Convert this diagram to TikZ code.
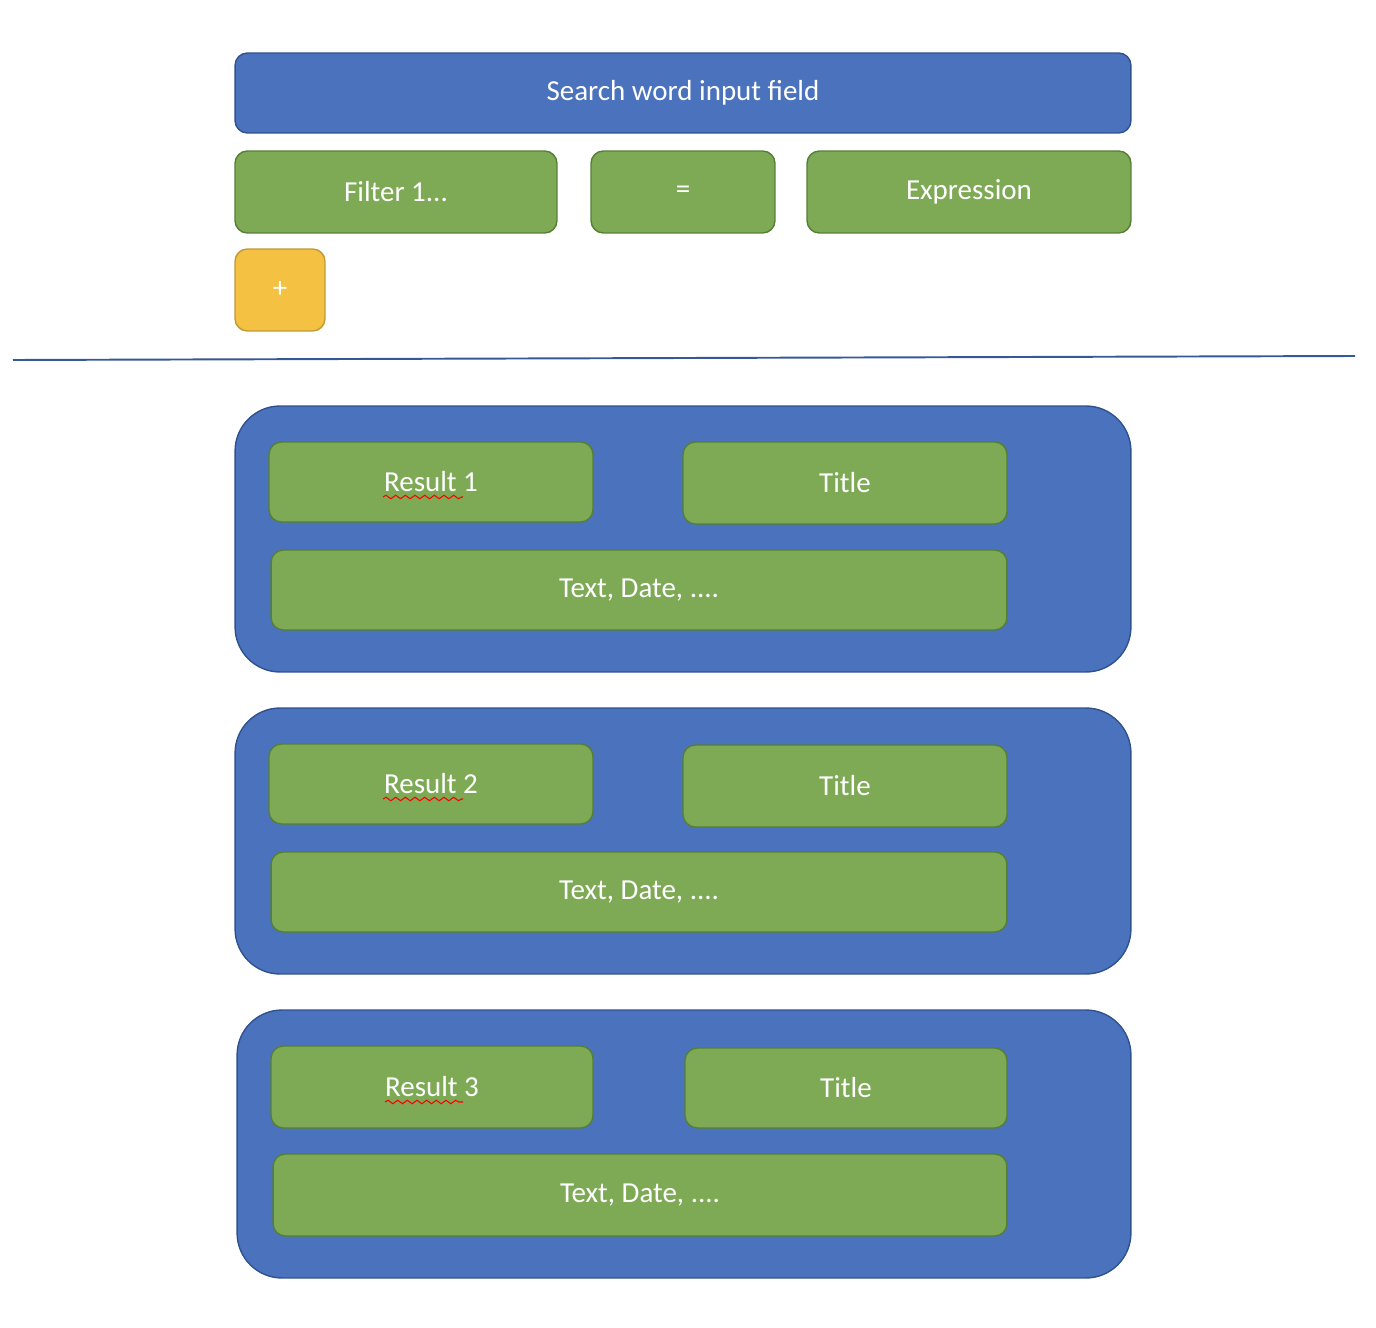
\documentclass[tikz,border=0pt]{standalone}
\usepackage{fontspec}
\setmainfont{Carlito}
\usetikzlibrary{positioning,decorations.pathmorphing}
\definecolor{boxblue}{HTML}{4A72BD}
\definecolor{blueedge}{HTML}{2F528F}
\definecolor{boxgreen}{HTML}{7EA955}
\definecolor{greenedge}{HTML}{557F35}
\definecolor{boxyellow}{HTML}{F4C142}
\definecolor{yellowedge}{HTML}{C09A35}

\begin{document}
\begin{tikzpicture}[x=0.02cm, y=-0.02cm,
    box/.style={draw, rounded corners=7pt, inner sep=0pt, line width=0.8pt, text=white, font=\fontsize{16.5}{19}\selectfont},
    bar/.style={box, fill=boxblue, draw=blueedge},
    grn/.style={box, fill=boxgreen, draw=greenedge},
    plus/.style={box, fill=boxyellow, draw=yellowedge},
    group/.style={draw=blueedge, fill=boxblue, rounded corners=0.9cm, inner sep=0pt, line width=0.8pt, minimum width=17.92cm, minimum height=5.32cm},
    squiggle/.style={red, line width=0.6pt, decorate, decoration={snake, amplitude=1pt, segment length=5.5pt}}]
              \useasboundingbox (0,0) rectangle (1376,1328);

              % search area
              \node[bar, minimum width=17.92cm, minimum height=1.6cm] (search) at (683,93) {Search word input field};
              \node[grn, minimum width=6.44cm, minimum height=1.64cm] (filter) at (396,192) {Filter 1...};
              \node[grn, minimum width=3.68cm, minimum height=1.64cm] (eq) at (683,192) {=};
              \node[grn, minimum width=6.48cm, minimum height=1.64cm] (expr) at (969,192) {Expression};
              \node[plus, minimum width=1.8cm, minimum height=1.64cm] (add) at (280,290) {+};

              % separator
              \coordinate (sepl) at (13,360);
              \coordinate (sepr) at (1355,356);
              \draw[blueedge!80!boxblue, line width=1.1pt] (sepl) -- (sepr);

              % results
              \node[group] (g1) at (683,539) {};
              \node[grn, minimum width=6.48cm, minimum height=1.6cm] (res1) at (431,482) {Result 1};
              \node[grn, minimum width=6.48cm, minimum height=1.64cm] (title1) at (845,483) {Title};
              \node[grn, minimum width=14.72cm, minimum height=1.6cm] (text1) at (639,590) {Text, Date, ....};
              \draw[squiggle] (383,497) -- (463,497);

              \node[group] (g2) at (683,841) {};
              \node[grn, minimum width=6.48cm, minimum height=1.6cm] (res2) at (431,784) {Result 2};
              \node[grn, minimum width=6.48cm, minimum height=1.64cm] (title2) at (845,786) {Title};
              \node[grn, minimum width=14.72cm, minimum height=1.6cm] (text2) at (639,892) {Text, Date, ....};
              \draw[squiggle] (383,799) -- (463,799);

              \node[group, minimum width=17.88cm, minimum height=5.36cm] (g3) at (684,1144) {};
              \node[grn, minimum width=6.44cm, minimum height=1.64cm] (res3) at (432,1087) {Result 3};
              \node[grn, minimum width=6.44cm, minimum height=1.6cm] (title3) at (846,1088) {Title};
              \node[grn, minimum width=14.68cm, minimum height=1.64cm] (text3) at (640,1195) {Text, Date, ....};
              \draw[squiggle] (385,1102) -- (463,1102);
\end{tikzpicture}
\end{document}
